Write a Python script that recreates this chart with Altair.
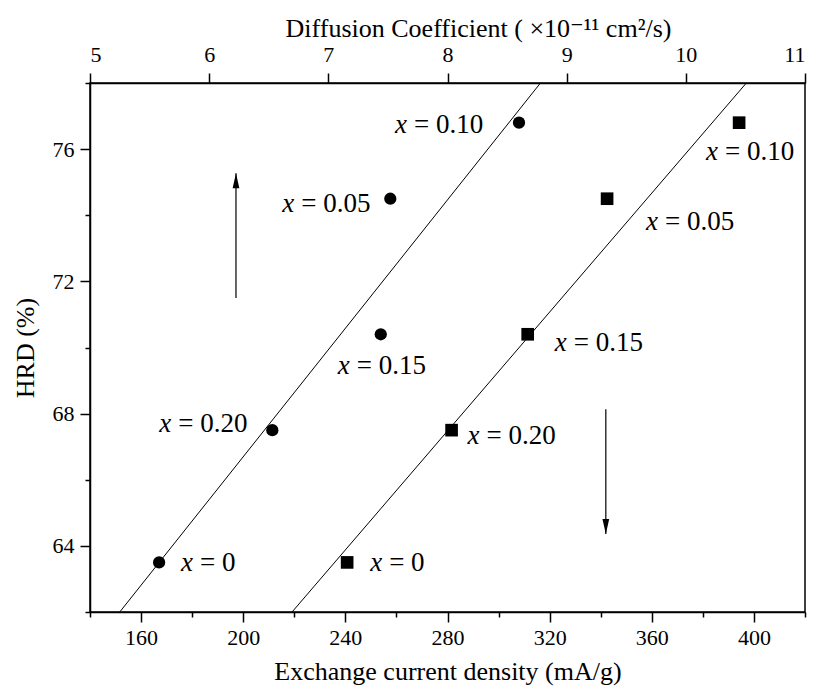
import altair as alt
import numpy as np
import pandas as pd

# ---------------- data ----------------
comp_labels = ["0", "0.20", "0.15", "0.05", "0.10"]
hrd = [63.5, 67.5, 70.4, 74.5, 76.8]                 # HRD (%)
diffusion = [5.58, 6.53, 7.44, 7.52, 8.60]           # D (x10^-11 cm2/s), circles, top axis
exchange = [240.7, 281.6, 311.4, 342.5, 394.2]       # I0 (mA/g), squares, bottom axis

x_ticks_bottom = list(range(140, 421, 20))
x_ticks_top = [5 + 0.5 * i for i in range(13)]
y_ticks = list(range(62, 79, 2))

up_arrow_x = [6.225]
up_arrow_y = [71.5, 75.27]        # start, tip
down_arrow_x = [342.0]
down_arrow_y = [68.13, 64.36]     # start, tip

Y_MIN, Y_MAX = 62, 78

# ---------------- style ----------------
FONT = "Liberation Serif, Tinos, Times New Roman, Times, Nimbus Roman, DejaVu Serif, serif"
W, H = 715, 529
LBL_SIZE = 27
# pixel offsets (dx of italic x, dy of text centre) relative to each point
circle_offsets = [(22, 0), (-113, -7), (-43, 31), (-108, 4), (-124, 1)]
square_offsets = [(23, 0), (16, 5), (27, 8), (39, 22), (-33, 28)]

y_enc = alt.Y(
    "y:Q",
    scale=alt.Scale(domain=[Y_MIN, Y_MAX], nice=False, zero=False),
    axis=alt.Axis(
        title="HRD (%)",
        values=y_ticks,
        format="d",
        labelExpr="datum.value % 4 === 0 ? datum.label : ''",
        tickSize={"condition": {"test": "datum.value % 4 === 0", "value": 10}, "value": 5},
        labelPadding=6,
        titlePadding=14,
    ),
)

x_bottom = alt.X(
    "xv:Q",
    scale=alt.Scale(domain=[140, 420], nice=False, zero=False),
    axis=alt.Axis(
        orient="bottom",
        title="Exchange current density (mA/g)",
        values=x_ticks_bottom,
        format="d",
        labelExpr="datum.value % 40 === 0 ? datum.label : ''",
        tickSize={"condition": {"test": "datum.value % 40 === 0", "value": 10}, "value": 5},
        labelPadding=5,
        titlePadding=10,
    ),
)

x_top = alt.X(
    "xv:Q",
    scale=alt.Scale(domain=[5, 11], nice=False, zero=False),
    axis=alt.Axis(
        orient="top",
        title="Diffusion Coefficient (  \u00d710\u207b\u00b9\u00b9 cm\u00b2/s)",
        values=x_ticks_top,
        format="d",
        labelExpr="datum.value % 1 === 0 ? datum.label : ''",
        tickSize={"condition": {"test": "datum.value % 1 === 0", "value": 10}, "value": 5},
        labelPadding=7,
        titleX=388,
        titleY=-47,
        titleBaseline="alphabetic",
        titleAlign="center",
    ),
)

UP_HEAD = "M0,0 L0.45,2 L-0.45,2 Z"
DOWN_HEAD = "M0,0 L0.45,-2 L-0.45,-2 Z"


def make_group(xs, x_enc, shape, size, offsets, arrow_x, arrow_y, head):
    pts = pd.DataFrame({"xv": xs, "y": hrd})
    layers = []
    m, b = np.polyfit(xs, hrd, 1)
    fit = pd.DataFrame({"xv": [(Y_MIN - b) / m, (Y_MAX - b) / m], "y": [Y_MIN, Y_MAX]})
    layers.append(
        alt.Chart(fit).mark_line(color="black", strokeWidth=1).encode(x=x_enc, y=y_enc)
    )
    layers.append(
        alt.Chart(pts)
        .mark_point(shape=shape, filled=True, size=size, color="black", opacity=1)
        .encode(x=x_enc, y=y_enc)
    )
    for i, (dx, dy) in enumerate(offsets):
        row = pd.DataFrame({"xv": [xs[i]], "y": [hrd[i]]})
        layers.append(
            alt.Chart(row)
            .mark_text(text="x", font=FONT, fontStyle="italic", fontSize=LBL_SIZE,
                       align="left", baseline="alphabetic", dx=dx, dy=dy + 9, color="black")
            .encode(x=x_enc, y=y_enc)
        )
        layers.append(
            alt.Chart(row)
            .mark_text(text="= " + comp_labels[i], font=FONT, fontSize=LBL_SIZE,
                       align="left", baseline="alphabetic", dx=dx + 19, dy=dy + 9, color="black")
            .encode(x=x_enc, y=y_enc)
        )
    arr = pd.DataFrame({"xv": arrow_x, "y": [arrow_y[0]], "y2": [arrow_y[1]]})
    layers.append(
        alt.Chart(arr).mark_rule(color="black", strokeWidth=1.2)
        .encode(x=x_enc, y=y_enc, y2=alt.Y2("y2:Q"))
    )
    tip = pd.DataFrame({"xv": arrow_x, "y": [arrow_y[1]]})
    layers.append(
        alt.Chart(tip)
        .mark_point(shape=head, filled=True, size=225, color="black", opacity=1, strokeWidth=0)
        .encode(x=x_enc, y=y_enc)
    )
    return alt.layer(*layers)


square_group = make_group(exchange, x_bottom, "square", 160, square_offsets,
                          down_arrow_x, down_arrow_y, DOWN_HEAD)
circle_group = make_group(diffusion, x_top, "circle", 150, circle_offsets,
                          up_arrow_x, up_arrow_y, UP_HEAD)

chart = (
    alt.layer(square_group, circle_group)
    .resolve_scale(x="independent")
    .properties(
        width=W,
        height=H,
        autosize=alt.AutoSizeParams(type="none"),
        padding={"left": 90, "top": 83, "right": 11, "bottom": 75},
        background="white",
    )
    .configure_view(stroke="black", strokeWidth=1.5)
    .configure_axis(
        domainColor="black",
        domainWidth=1.5,
        tickColor="black",
        tickWidth=1.5,
        labelColor="black",
        titleColor="black",
        labelFont=FONT,
        titleFont=FONT,
        labelFontSize=22,
        titleFontSize=26,
        titleFontWeight="normal",
        grid=False,
    )
)

chart.save("out.html", embed_options={"renderer": "svg", "actions": False})
